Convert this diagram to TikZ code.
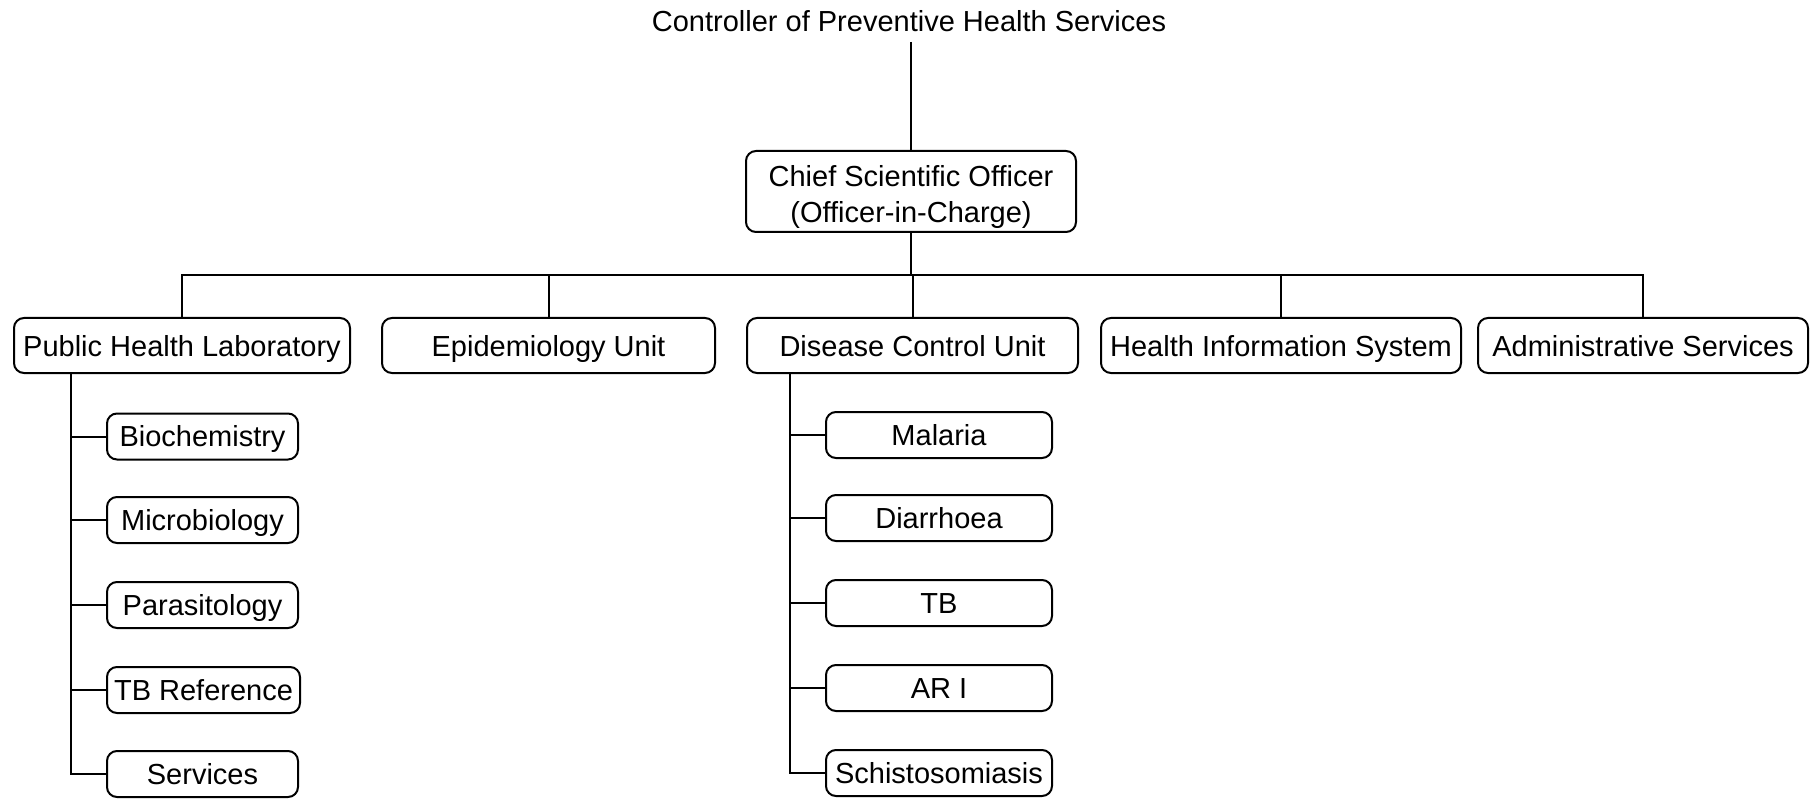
\documentclass[tikz,border=0pt]{standalone}
\usepackage{fontspec}
\setmainfont{Liberation Sans}
\begin{document}
\begin{tikzpicture}[x=1pt,y=-1pt,
  every node/.style={font=\fontsize{29}{36}\selectfont},
  box/.style={draw, rounded corners=10pt, line width=2pt, inner sep=0pt, align=center},
  lvl/.style={box, minimum height=55pt, text height=23pt, text depth=2pt},
  sub/.style={box, minimum height=46pt, text height=22pt, text depth=2pt},
  conn/.style={line width=2pt}]
\useasboundingbox (0,0) rectangle (1811,799);

% top
\node[anchor=base] (title) at (909,32) {Controller of Preventive Health Services};
\node[box, minimum width=330pt, minimum height=81pt, text height=62pt, text depth=0pt] (chief) at (911,191.5)
  {Chief Scientific Officer\\(Officer-in-Charge)};

% level 1
\node[lvl, minimum width=336pt] (phl) at (182,345.5) {Public Health Laboratory};
\node[lvl, minimum width=333pt] (epi) at (548.5,345.5) {Epidemiology Unit};
\node[lvl, minimum width=331pt] (dcu) at (912.5,345.5) {Disease Control Unit};
\node[lvl, minimum width=360pt] (his) at (1281,345.5) {Health Information System};
\node[lvl, minimum width=330pt] (adm) at (1643,345.5) {Administrative Services};

% PHL sub-units
\node[sub, minimum width=191pt] (bio) at (202.5,436.5) {Biochemistry};
\node[sub, minimum width=191pt] (mic) at (202.5,520) {Microbiology};
\node[sub, minimum width=191pt] (par) at (202.5,605) {Parasitology};
\node[sub, minimum width=193pt] (tbr) at (203.5,690) {TB Reference};
\node[sub, minimum width=191pt] (svc) at (202.5,774) {Services};

% DCU sub-units
\node[sub, minimum width=226pt] (mal) at (939,435) {Malaria};
\node[sub, minimum width=226pt] (dia) at (939,518) {Diarrhoea};
\node[sub, minimum width=226pt] (tb)  at (939,603) {TB};
\node[sub, minimum width=226pt] (ari) at (939,688) {AR I};
\node[sub, minimum width=226pt] (sch) at (939,773) {Schistosomiasis};

% coordinates
\coordinate (bus) at (912,275);
\coordinate (pspine) at (71,0);
\coordinate (dspine) at (790,0);

% connectors
\draw[conn] (chief.north |- title.south) ++(0,6) -- (chief.north);
\draw[conn] (chief.south) -- (chief.south |- bus);
\draw[conn] (phl.north) -- (phl.north |- bus) -- (adm.north |- bus) -- (adm.north);
\draw[conn] (epi.north) -- (epi.north |- bus);
\draw[conn] (dcu.north) -- (dcu.north |- bus);
\draw[conn] (his.north) -- (his.north |- bus);

\draw[conn] (phl.south -| pspine) |- (svc.west);
\draw[conn] (bio.west -| pspine) -- (bio.west);
\draw[conn] (mic.west -| pspine) -- (mic.west);
\draw[conn] (par.west -| pspine) -- (par.west);
\draw[conn] (tbr.west -| pspine) -- (tbr.west);

\draw[conn] (dcu.south -| dspine) |- (sch.west);
\draw[conn] (mal.west -| dspine) -- (mal.west);
\draw[conn] (dia.west -| dspine) -- (dia.west);
\draw[conn] (tb.west -| dspine) -- (tb.west);
\draw[conn] (ari.west -| dspine) -- (ari.west);
\end{tikzpicture}
\end{document}
